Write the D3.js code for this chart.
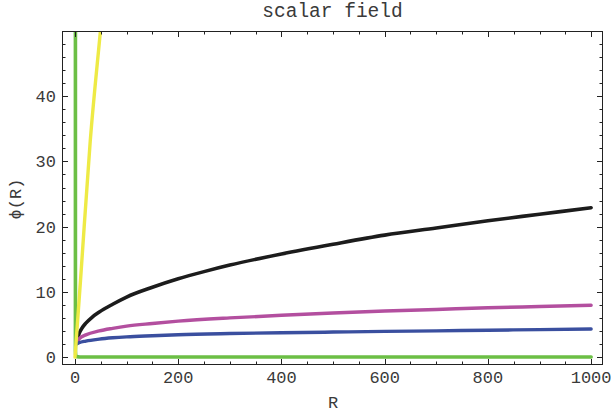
<!DOCTYPE html>
<html>
<head>
<meta charset="utf-8">
<script src="https://cdn.jsdelivr.net/npm/d3@7"></script>
<style>
body { margin: 0; background: #fff; }
text { font-family: "Liberation Mono", "Courier New", monospace; fill: #3a3a3a; }
</style>
</head>
<body>
<div id="chart"></div>
<script>
// values
var black_r = [3, 5, 8.5, 14, 21, 33, 47, 73, 100, 150, 200, 250, 300, 400, 500, 600, 700, 800, 900, 1000];
var black_phi = [2.1, 2.9, 3.7, 4.5, 5.2, 6.1, 6.9, 8.1, 9.2, 10.7, 12.0, 13.1, 14.1, 15.8, 17.3, 18.7, 19.8, 20.9, 21.9, 22.9];

var magenta_r = [3, 8, 21, 47, 73, 100, 150, 200, 300, 400, 500, 600, 700, 800, 900, 1000];
var magenta_phi = [2.1, 2.8, 3.4, 4.0, 4.4, 4.75, 5.15, 5.5, 6.0, 6.4, 6.75, 7.05, 7.3, 7.55, 7.75, 7.95];

var blue_r = [3, 8, 21, 47, 73, 100, 150, 200, 300, 400, 500, 600, 700, 800, 900, 1000];
var blue_phi = [2.0, 2.2, 2.45, 2.75, 2.95, 3.1, 3.27, 3.42, 3.6, 3.73, 3.83, 3.93, 4.02, 4.12, 4.2, 4.3];

var green_r = [0.8, 0.8, 1.2, 2, 4, 8, 1000];
var green_phi = [60, 1, 0.4, 0.15, 0.05, 0.02, 0];

var yellow_r = [0, 10.7, 29.5, 49, 60];
var yellow_phi = [0, 11.8, 33.1, 49.8, 59];

var x_major = [0, 200, 400, 600, 800, 1000];
var y_major = [0, 10, 20, 30, 40];

var width = 611, height = 412;
var m = { left: 62, right: 603, top: 31, bottom: 365 };

var svg = d3.select("#chart").append("svg")
	.attr("width", width)
	.attr("height", height);

var x = d3.scaleLinear().domain([-25.2, 1023]).range([m.left, m.right]);
var y = d3.scaleLinear().domain([-1.22, 50]).range([m.bottom, m.top]);

svg.append("clipPath").attr("id", "plotclip")
	.append("rect")
	.attr("x", m.left).attr("y", m.top)
	.attr("width", m.right - m.left).attr("height", m.bottom - m.top);

var line = d3.line()
	.x(function(d) { return x(d[0]); })
	.y(function(d) { return y(d[1]); })
	.curve(d3.curveMonotoneX);

function zip(rs, ps) {
	return rs.map(function(r, i) { return [r, ps[i]]; });
}

var series = [
	{ data: zip(black_r, black_phi), color: "#1c1c1c", w: 3.6 },
	{ data: zip(magenta_r, magenta_phi), color: "#b34f9f", w: 3.4 },
	{ data: zip(blue_r, blue_phi), color: "#3a4f9f", w: 3.4 },
	{ data: zip(green_r, green_phi), color: "#6cbf45", w: 3.6, straight: true },
	{ data: zip(yellow_r, yellow_phi), color: "#eeea45", w: 3.4 }
];

var plot = svg.append("g").attr("clip-path", "url(#plotclip)");
series.forEach(function(s) {
	var l = s.straight ? d3.line().x(line.x()).y(line.y()).curve(d3.curveLinear) : line;
	plot.append("path")
		.attr("d", l(s.data))
		.attr("fill", "none")
		.attr("stroke", s.color)
		.attr("stroke-width", s.w)
		.attr("stroke-linecap", "round")
		.attr("stroke-linejoin", "round");
});

// frame
svg.append("rect")
	.attr("x", m.left + 0.5).attr("y", m.top + 0.5)
	.attr("width", m.right - m.left - 1).attr("height", m.bottom - m.top - 1)
	.attr("fill", "none")
	.attr("stroke", "#222")
	.attr("stroke-width", 1);

var x_minor = d3.range(0, 1001, 50);
var y_minor = d3.range(0, 50, 2);

var ticks = svg.append("g").attr("stroke", "#222").attr("stroke-width", 1);
x_minor.forEach(function(v) {
	var len = x_major.indexOf(v) >= 0 ? 6 : 3.5;
	var px = Math.round(x(v)) + 0.5;
	ticks.append("line").attr("x1", px).attr("x2", px).attr("y1", m.bottom).attr("y2", m.bottom - len);
	ticks.append("line").attr("x1", px).attr("x2", px).attr("y1", m.top).attr("y2", m.top + len);
});
y_minor.forEach(function(v) {
	var len = y_major.indexOf(v) >= 0 ? 6 : 3.5;
	var py = Math.round(y(v)) + 0.5;
	ticks.append("line").attr("y1", py).attr("y2", py).attr("x1", m.left).attr("x2", m.left + len);
	ticks.append("line").attr("y1", py).attr("y2", py).attr("x1", m.right).attr("x2", m.right - len);
});

svg.selectAll("text.xt")
	.data(x_major)
	.enter()
	.append("text")
	.attr("class", "xt")
	.attr("x", function(d) { return x(d); })
	.attr("y", 383)
	.attr("text-anchor", "middle")
	.attr("font-size", 17)
	.text(function(d) { return d; });

svg.selectAll("text.yt")
	.data(y_major)
	.enter()
	.append("text")
	.attr("class", "yt")
	.attr("x", 56)
	.attr("y", function(d) { return y(d); })
	.attr("dy", "0.35em")
	.attr("text-anchor", "end")
	.attr("font-size", 17)
	.text(function(d) { return d; });

svg.append("text")
	.attr("x", (m.left + m.right) / 2)
	.attr("y", 17)
	.attr("text-anchor", "middle")
	.attr("font-size", 19.5)
	.text("scalar field");

svg.append("text")
	.attr("x", 333)
	.attr("y", 408)
	.attr("text-anchor", "middle")
	.attr("font-size", 17)
	.text("R");

svg.append("text")
	.attr("transform", "translate(21,199) rotate(-90)")
	.attr("text-anchor", "middle")
	.attr("font-size", 17)
	.text("\u03d5(R)");
</script>
</body>
</html>
